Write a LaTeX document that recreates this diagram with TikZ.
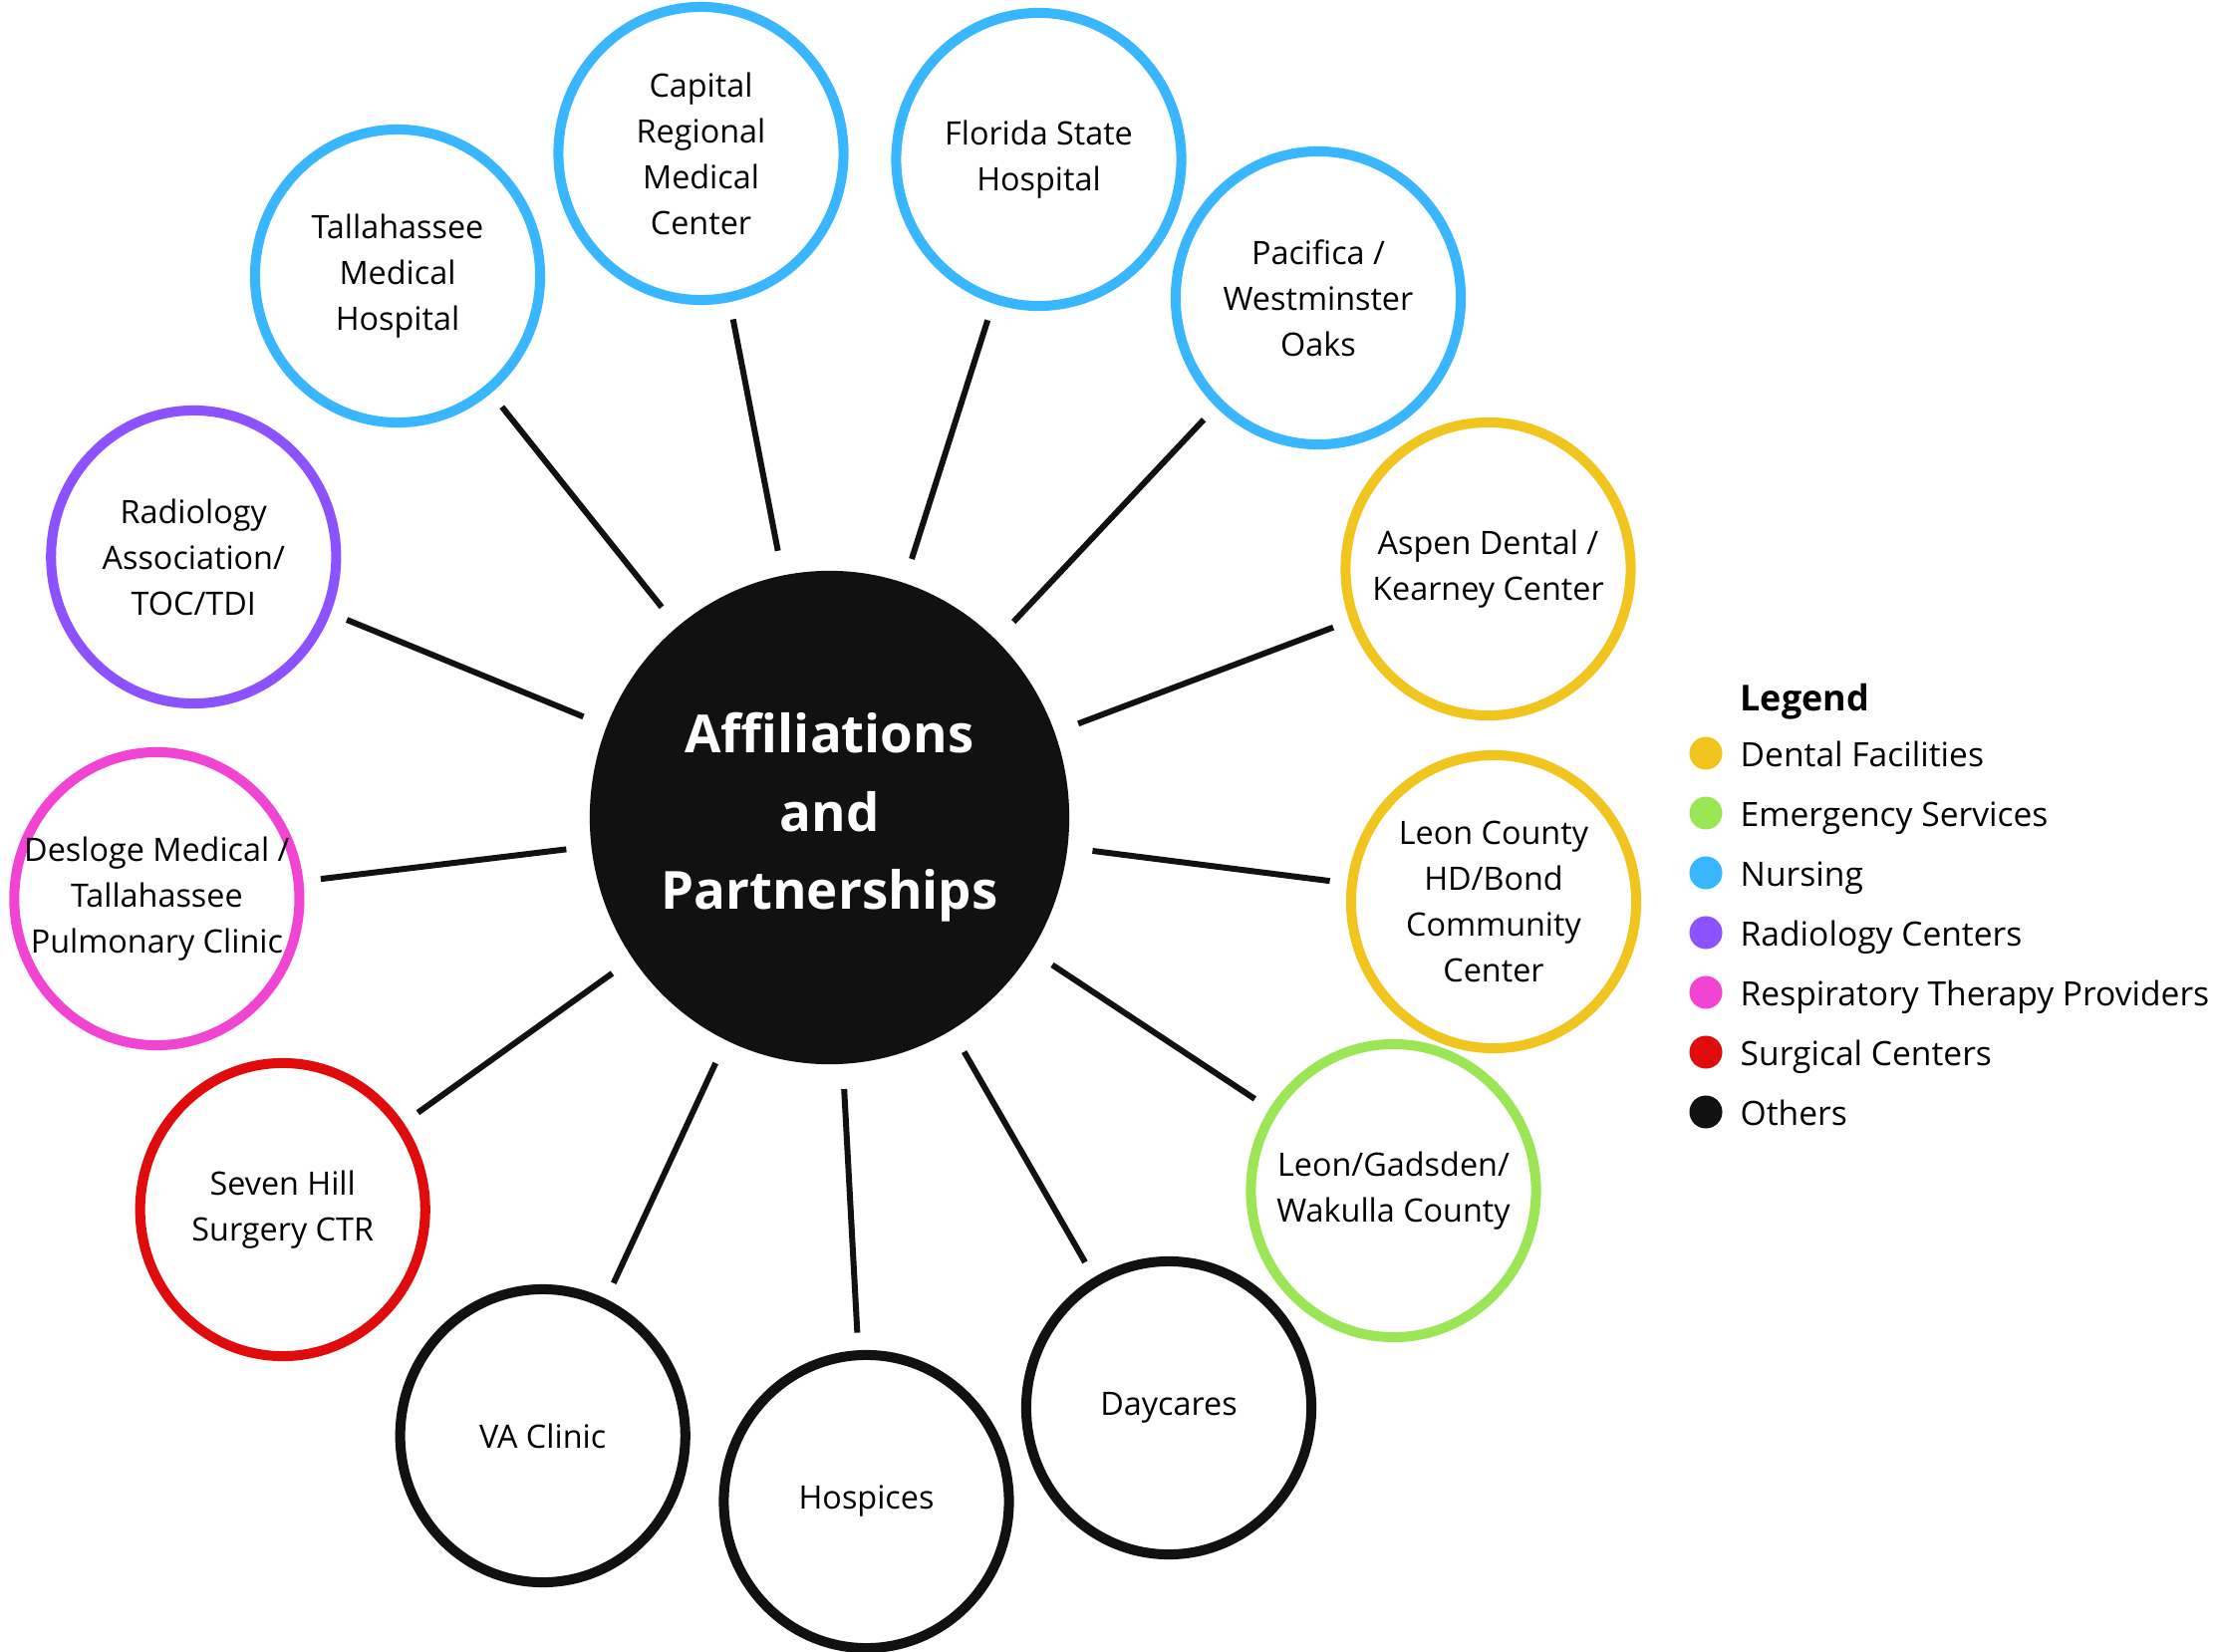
\documentclass[tikz,border=0pt]{standalone}
\usepackage{fontspec}
\setmainfont{Open Sans}
\usepackage{tikz}
\usetikzlibrary{shapes.geometric}
\definecolor{dental}{HTML}{F2C41E}
\definecolor{emergency}{HTML}{9BE654}
\definecolor{nursing}{HTML}{38B6FF}
\definecolor{radiology}{HTML}{8C52FF}
\definecolor{respiratory}{HTML}{F244D2}
\definecolor{surgical}{HTML}{E00C0C}
\definecolor{others}{HTML}{111111}
\tikzset{
  partner/.style={ellipse, draw=#1, line width=2.85pt, minimum width=2.86cm,
    minimum height=2.94cm, inner sep=-1cm, align=center,
    font=\fontsize{9.2}{13.1}\selectfont},
  hub/.style={ellipse, fill=others, minimum width=4.81cm, minimum height=4.95cm,
    inner sep=-1cm, text=white, align=center,
    font=\fontsize{15}{22.3}\selectfont\bfseries},
  link/.style={draw=others, line width=1.7pt, shorten >=5pt, shorten <=7pt},
  keydot/.style={circle, fill=#1, minimum size=0.33cm, inner sep=0pt},
  keytext/.style={anchor=base west, inner sep=0pt, font=\fontsize{9.55}{11}\selectfont}
}
\begin{document}
\begin{tikzpicture}[x=0.01cm, y=-0.01cm]
    \useasboundingbox (0,0) rectangle (2224,1658);
    % hub and partners
    \node[hub] (hub) at (832.5,820.5) {Affiliations\\and\\Partnerships};
    \node[partner=nursing] (tmh) at (399,277) {Tallahassee\\Medical\\Hospital};
    \node[partner=nursing] (crmc) at (703.5,154) {Capital\\Regional\\Medical\\Center};
    \node[partner=nursing] (fsh) at (1042.5,160) {Florida State\\Hospital};
    \node[partner=nursing] (pwo) at (1323,299) {Pacifica /\\Westminster\\Oaks};
    \node[partner=dental] (adk) at (1493.5,571) {Aspen Dental /\\Kearney Center};
    \node[partner=dental] (lcc) at (1499,905) {Leon County\\HD/Bond\\Community\\Center};
    \node[partner=emergency] (lgw) at (1398.5,1195) {Leon/Gadsden/\\Wakulla County};
    \node[partner=others] (day) at (1173,1413) {Daycares};
    \node[partner=others] (hos) at (869.5,1507) {Hospices};
    \node[partner=others] (vac) at (544.7,1441) {VA Clinic};
    \node[partner=surgical] (shs) at (283.7,1214) {Seven Hill\\Surgery CTR};
    \node[partner=respiratory] (dmt) at (157.4,902) {Desloge Medical /\\Tallahassee\\Pulmonary Clinic};
    \node[partner=radiology] (rad) at (194.3,559) {Radiology\\Association/\\TOC/TDI};
    % spokes
    \draw[link] (hub) -- (tmh);
    \draw[link] (hub) -- (crmc);
    \draw[link] (hub) -- (fsh);
    \draw[link] (hub) -- (pwo);
    \draw[link] (hub) -- (adk);
    \draw[link] (hub) -- (lcc);
    \draw[link] (hub) -- (lgw);
    \draw[link] (hub) -- (day);
    \draw[link] (hub) -- (hos);
    \draw[link] (hub) -- (vac);
    \draw[link] (hub) -- (shs);
    \draw[link] (hub) -- (dmt);
    \draw[link] (hub) -- (rad);
    % legend
    \node[keytext, font=\fontsize{10.2}{12}\selectfont\bfseries] (legend) at (1746,713) {Legend};
    \node[keydot=dental] (kdental) at (1712,756) {};
    \node[keytext] (tdental) at (1746,769) {Dental Facilities};
    \node[keydot=emergency] (kemergency) at (1712,816) {};
    \node[keytext] (temergency) at (1746,829) {Emergency Services};
    \node[keydot=nursing] (knursing) at (1712,876) {};
    \node[keytext] (tnursing) at (1746,889) {Nursing};
    \node[keydot=radiology] (kradiology) at (1712,936) {};
    \node[keytext] (tradiology) at (1746,949) {Radiology Centers};
    \node[keydot=respiratory] (krespiratory) at (1712,996) {};
    \node[keytext] (trespiratory) at (1746,1009) {Respiratory Therapy Providers};
    \node[keydot=surgical] (ksurgical) at (1712,1056) {};
    \node[keytext] (tsurgical) at (1746,1069) {Surgical Centers};
    \node[keydot=others] (kothers) at (1712,1116) {};
    \node[keytext] (tothers) at (1746,1129) {Others};
\end{tikzpicture}
\end{document}
